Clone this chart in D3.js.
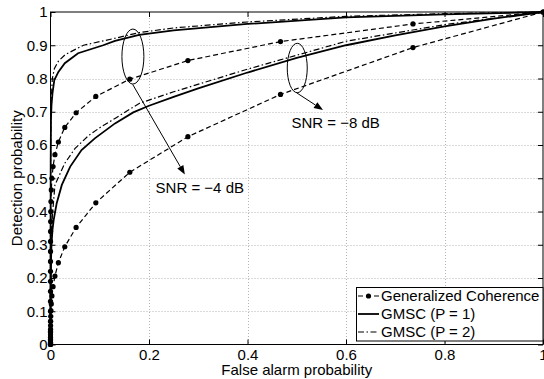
<!DOCTYPE html>
<html><head><meta charset="utf-8">
<script src="https://cdn.jsdelivr.net/npm/d3@7"></script>
<style>body{margin:0;background:#fff}svg{display:block}text{font-family:"Liberation Sans",Arial,Helvetica,sans-serif;font-size:15px;fill:#000}</style>
</head><body><svg id="c" width="544" height="379"></svg>
<script>
// ---- data ----
const xTicks = [0, 0.2, 0.4, 0.6, 0.8, 1];
const yTicks = [0, 0.1, 0.2, 0.3, 0.4, 0.5, 0.6, 0.7, 0.8, 0.9, 1];
const xTickLabels = ["0", "0.2", "0.4", "0.6", "0.8", "1"];
const yTickLabels = ["0", "0.1", "0.2", "0.3", "0.4", "0.5", "0.6", "0.7", "0.8", "0.9", "1"];

// Generalized coherence (markers), shared false-alarm values
const faGC = [1, 0.736, 0.467, 0.279, 0.161, 0.092, 0.052, 0.029, 0.016, 0.009, 0.0052, 0.0029, 0.0016, 0.0009, 0.0005, 0.0003, 0.00017, 0.0001, 0.00006, 0.00004, 0.00002, 0.00001, 0.000005, 0.000002, 0.000001, 0.0000005, 0.0000002, 0];
const pdGC_m4 = [1, 0.964, 0.911, 0.854, 0.798, 0.746, 0.697, 0.653, 0.609, 0.571, 0.535, 0.50, 0.465, 0.43, 0.40, 0.37, 0.34, 0.31, 0.28, 0.25, 0.22, 0.19, 0.16, 0.13, 0.10, 0.07, 0.04, 0];
const pdGC_m8 = [1, 0.893, 0.752, 0.625, 0.518, 0.426, 0.352, 0.294, 0.246, 0.206, 0.174, 0.146, 0.122, 0.102, 0.085, 0.07, 0.057, 0.046, 0.037, 0.029, 0.022, 0.016, 0.011, 0.007, 0.004, 0.002, 0.001, 0];

// GMSC P = 1 (solid)
const faP1_m4 = [0, 0.0001, 0.0004, 0.001, 0.002, 0.004, 0.0077, 0.016, 0.029, 0.056, 0.107, 0.131, 0.18, 0.25, 0.4, 0.6, 0.8, 1];
const pdP1_m4 = [0, 0.3, 0.55, 0.68, 0.72, 0.755, 0.795, 0.82, 0.846, 0.876, 0.9, 0.913, 0.931, 0.945, 0.964, 0.984, 0.993, 1];
const faP1_m8 = [0, 0.0003, 0.001, 0.002, 0.004, 0.0065, 0.0126, 0.023, 0.04, 0.063, 0.09, 0.131, 0.168, 0.2, 0.25, 0.3, 0.4, 0.5, 0.6, 0.7, 0.8, 0.9, 1];
const pdP1_m8 = [0, 0.15, 0.25, 0.3, 0.345, 0.375, 0.425, 0.48, 0.535, 0.585, 0.62, 0.665, 0.698, 0.718, 0.745, 0.77, 0.818, 0.862, 0.9, 0.93, 0.957, 0.98, 1];

// GMSC P = 2 (dash-dot)
const faP2_m4 = [0, 0.0001, 0.0004, 0.001, 0.0037, 0.008, 0.016, 0.03, 0.067, 0.131, 0.18, 0.25, 0.4, 0.6, 0.8, 1];
const pdP2_m4 = [0, 0.35, 0.6, 0.72, 0.8, 0.83, 0.852, 0.872, 0.9, 0.921, 0.938, 0.952, 0.97, 0.987, 0.995, 1];
const faP2_m8 = [0, 0.0003, 0.001, 0.002, 0.004, 0.009, 0.029, 0.05, 0.077, 0.1, 0.131, 0.18, 0.25, 0.4, 0.6, 0.8, 1];
const pdP2_m8 = [0, 0.18, 0.28, 0.34, 0.39, 0.48, 0.545, 0.59, 0.628, 0.652, 0.68, 0.725, 0.76, 0.828, 0.912, 0.962, 1];

const legendLabels = ["Generalized Coherence", "GMSC (P = 1)", "GMSC (P = 2)"];
const annotations = [
  {label: "SNR = \u22124 dB", cx: 0.1673, cy: 0.866, rx: 0.0223, ry: 0.0827, ax0: 0.167, ay0: 0.782, ax1: 0.2728, ay1: 0.511, tx: 0.2134, ty: 0.4565},
  {label: "SNR = \u22128 dB", cx: 0.501, cy: 0.8316, rx: 0.0203, ry: 0.0743, ax0: 0.4994, ay0: 0.7573, ax1: 0.5533, ay1: 0.7053, tx: 0.4892, ty: 0.650}
];

// ---- drawing ----
const L = 50.5, R = 543, T = 12, B = 344.5;
const svg = d3.select("#c");
const x = d3.scaleLinear().domain([0, 1]).range([L, R]);
const y = d3.scaleLinear().domain([0, 1]).range([B, T]);

// grid
const grid = svg.append("g").attr("stroke", "#b4b4b4").attr("stroke-width", 1).attr("stroke-dasharray", "1,2");
grid.selectAll(".gx").data(xTicks.slice(1, -1)).join("line")
  .attr("x1", d => Math.round(x(d)) + 0.5).attr("x2", d => Math.round(x(d)) + 0.5).attr("y1", T).attr("y2", B);
grid.selectAll(".gy").data(yTicks.slice(1, -1)).join("line")
  .attr("y1", d => Math.round(y(d)) + 0.5).attr("y2", d => Math.round(y(d)) + 0.5).attr("x1", L).attr("x2", R);

// axes
const fmtX = (d, i) => xTickLabels[i];
const fmtY = (d, i) => yTickLabels[i];
function styleAxis(g) { g.select(".domain").remove(); g.selectAll("text").attr("font-size", 15).attr("font-family", '"Liberation Sans",Arial,sans-serif').attr("fill", "#000"); g.selectAll("line").attr("stroke", "#000"); }
svg.append("g").attr("transform", `translate(0,${B})`).call(d3.axisBottom(x).tickValues(xTicks).tickFormat(fmtX).tickSizeInner(-5).tickSizeOuter(0).tickPadding(5)).call(styleAxis);
svg.append("g").attr("transform", `translate(0,${T})`).call(d3.axisTop(x).tickValues(xTicks).tickFormat("").tickSizeInner(-5).tickSizeOuter(0)).call(styleAxis);
svg.append("g").attr("transform", `translate(${L},0)`).call(d3.axisLeft(y).tickValues(yTicks).tickFormat(fmtY).tickSizeInner(-5).tickSizeOuter(0).tickPadding(3)).call(styleAxis);
svg.append("g").attr("transform", `translate(${R},0)`).call(d3.axisRight(y).tickValues(yTicks).tickFormat("").tickSizeInner(-5).tickSizeOuter(0)).call(styleAxis);

// axis titles
svg.append("text").attr("x", (L + R) / 2).attr("y", 375).attr("text-anchor", "middle").text("False alarm probability");
svg.append("text").attr("transform", `translate(22,${(T + B) / 2}) rotate(-90)`).attr("text-anchor", "middle").text("Detection probability");

// curves
const line = d3.line().x(d => x(d[0])).y(d => y(d[1]));
const zip = (a, b) => a.map((v, i) => [v, b[i]]);
const curves = svg.append("g").attr("fill", "none").attr("stroke", "#000");
const dashGC = "5,3", dashP2 = "6,2.5,1.5,2.5";
[[faGC, pdGC_m8], [faGC, pdGC_m4]].forEach(([a, b]) => {
  curves.append("path").attr("d", line(zip(a, b))).attr("stroke-width", 1.2).attr("stroke-dasharray", dashGC);
});
[[faP2_m8, pdP2_m8], [faP2_m4, pdP2_m4]].forEach(([a, b]) => {
  curves.append("path").attr("d", line(zip(a, b))).attr("stroke-width", 1.2).attr("stroke-dasharray", dashP2);
});
[[faP1_m8, pdP1_m8], [faP1_m4, pdP1_m4]].forEach(([a, b]) => {
  curves.append("path").attr("d", line(zip(a, b))).attr("stroke-width", 1.8);
});
const marks = svg.append("g").attr("fill", "#000");
[pdGC_m8, pdGC_m4].forEach(pd => {
  marks.selectAll(null).data(zip(faGC, pd)).join("circle").attr("cx", d => x(d[0])).attr("cy", d => y(d[1])).attr("r", 2.6);
});

// frame
svg.append("rect").attr("x", L).attr("y", T).attr("width", R - L).attr("height", B - T).attr("fill", "none").attr("stroke", "#000").attr("stroke-width", 1);

// annotations
const ann = svg.append("g");
annotations.forEach(a => {
  ann.append("ellipse").attr("cx", x(a.cx)).attr("cy", y(a.cy)).attr("rx", x(a.rx) - x(0)).attr("ry", y(0) - y(a.ry))
    .attr("fill", "none").attr("stroke", "#000").attr("stroke-width", 1);
  const x0 = x(a.ax0), y0 = y(a.ay0), x1 = x(a.ax1), y1 = y(a.ay1);
  const ang = Math.atan2(y1 - y0, x1 - x0), hl = 9, hw = 3.5;
  const bx = x1 - hl * Math.cos(ang), by = y1 - hl * Math.sin(ang);
  ann.append("line").attr("x1", x0).attr("y1", y0).attr("x2", bx).attr("y2", by).attr("stroke", "#000").attr("stroke-width", 1);
  ann.append("path").attr("d", `M${x1},${y1}L${bx + hw * Math.sin(ang)},${by - hw * Math.cos(ang)}L${bx - hw * Math.sin(ang)},${by + hw * Math.cos(ang)}Z`).attr("fill", "#000");
  ann.append("text").attr("x", x(a.tx)).attr("y", y(a.ty)).text(a.label);
});

// legend
const lg = svg.append("g");
const lx = 356.5, ly = 287.5, lw = 186.5, lh = 53.5;
lg.append("rect").attr("x", lx).attr("y", ly).attr("width", lw).attr("height", lh).attr("fill", "#fff").attr("stroke", "#000").attr("stroke-width", 1);
const rowY = [296, 314, 332];
const styles = [{dash: dashGC, w: 1.2, dot: true}, {dash: null, w: 1.8, dot: false}, {dash: dashP2, w: 1.2, dot: false}];
legendLabels.forEach((t, i) => {
  const s = styles[i];
  const ln = lg.append("line").attr("x1", 358).attr("x2", 379).attr("y1", rowY[i]).attr("y2", rowY[i]).attr("stroke", "#000").attr("stroke-width", s.w);
  if (s.dash) ln.attr("stroke-dasharray", s.dash);
  if (s.dot) lg.append("circle").attr("cx", 368.5).attr("cy", rowY[i]).attr("r", 2.6).attr("fill", "#000");
  lg.append("text").attr("x", 381).attr("y", rowY[i] + 5.3).text(t);
});
</script></body></html>
